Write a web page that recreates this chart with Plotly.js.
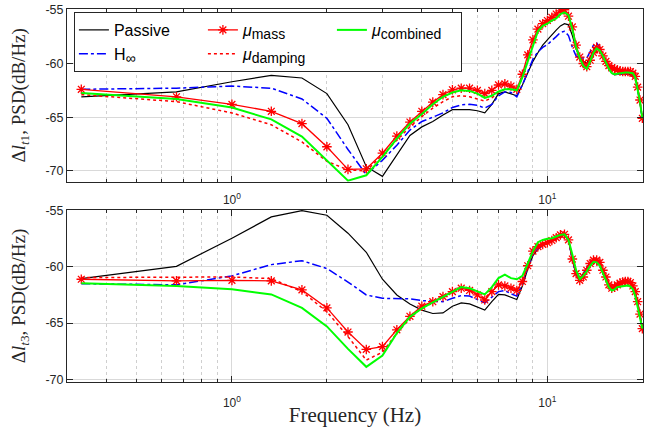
<!DOCTYPE html>
<html><head><meta charset="utf-8">
<script src="https://cdn.plot.ly/plotly-3.0.1.min.js"></script>
<style>html,body{margin:0;padding:0;background:#fff}#plot{width:660px;height:427px}</style>
</head><body><div id="plot"></div>
<script>
const freq = [0.333,0.667,1.000,1.333,1.667,2.000,2.333,2.667,3.000,3.333,3.667,4.000,4.333,4.667,5.000,5.333,5.667,6.000,6.333,6.667,7.000,7.333,7.667,8.000,8.333,8.667,9.000,9.333,9.667,10.000,10.333,10.667,11.000,11.333,11.667,12.000,12.333,12.667,13.000,13.333,13.667,14.000,14.333,14.667,15.000,15.333,15.667,16.000,16.333,16.667,17.000,17.333,17.667,18.000,18.333,18.667,19.000,19.333,19.667,20.000];

// Upper panel: Δl_t1
const passiveT1 = [-63.1,-62.65,-61.7,-61.1,-61.35,-62.8,-65.7,-69.6,-70.5,-68.5,
-66.7,-65.9,-65.4,-64.8,-64.3,-64.3,-64.3,-64.4,-64.6,-63.8,
-62.8,-62.65,-62.8,-63.0,-62.0,-60.9,-59.8,-59.0,-58.3,-57.8,
-57.3,-56.9,-56.5,-56.3,-56.4,-57.4,-58.6,-59.5,-59.8,-60.0,
-59.4,-58.8,-58.4,-58.7,-59.3,-59.9,-60.4,-60.9,-61.05,-61.0,
-60.95,-60.95,-61.0,-61.0,-61.05,-61.1,-61.3,-62.4,-63.6,-65.1];
const hinfT1 = [-62.4,-62.3,-62.1,-62.3,-63.3,-65.1,-68.0,-70.35,-69.0,-67.6,
-66.2,-65.4,-65.0,-64.6,-64.1,-63.85,-63.8,-63.9,-64.15,-63.8,
-63.0,-62.65,-62.7,-63.1,-62.0,-60.8,-59.6,-58.9,-58.5,-58.25,
-57.9,-57.5,-57.1,-57.0,-57.4,-58.5,-59.3,-59.5,-59.5,-59.5,
-58.9,-58.3,-58.1,-58.5,-59.3,-60.0,-60.5,-60.9,-61.0,-61.0,
-61.0,-60.95,-60.95,-60.95,-61.0,-61.05,-61.3,-62.4,-63.6,-65.1];
const massT1 = [-62.4,-63.1,-63.8,-64.45,-65.6,-67.75,-69.85,-69.8,-68.35,-66.75,
-65.45,-64.45,-63.6,-62.9,-62.45,-62.3,-62.3,-62.5,-62.8,-62.5,
-62.0,-61.9,-62.1,-62.4,-61.0,-59.2,-57.8,-56.8,-56.3,-56.0,
-55.7,-55.4,-55.1,-55.0,-55.6,-56.6,-58.3,-59.4,-60.0,-60.3,
-59.7,-59.0,-58.5,-58.7,-59.3,-59.8,-60.2,-60.4,-60.5,-60.6,
-60.7,-60.75,-60.75,-60.75,-60.75,-60.9,-61.2,-62.2,-63.4,-65.1];
const dampingT1 = [-62.9,-63.55,-64.6,-65.7,-67.3,-69.1,-69.9,-70.0,-68.5,-67.1,
-65.9,-64.95,-64.15,-63.55,-63.1,-63.0,-63.1,-63.3,-63.5,-63.2,
-62.7,-62.4,-62.4,-62.5,-61.3,-59.6,-58.1,-57.0,-56.4,-56.1,
-55.8,-55.5,-55.2,-55.1,-55.6,-56.7,-58.4,-59.5,-60.1,-60.4,
-59.8,-59.1,-58.6,-58.8,-59.4,-59.9,-60.3,-60.5,-60.6,-60.7,
-60.75,-60.8,-60.8,-60.8,-60.8,-60.9,-61.2,-62.3,-63.5,-65.1];
const combinedT1 = [-62.75,-63.3,-64.1,-65.2,-66.8,-69.0,-70.9,-70.4,-68.7,-67.0,
-65.6,-64.7,-63.8,-63.1,-62.7,-62.5,-62.55,-62.8,-63.2,-63.0,
-62.6,-62.4,-62.4,-62.5,-61.3,-59.8,-58.3,-57.0,-56.5,-56.3,
-56.0,-55.8,-55.4,-55.25,-55.5,-56.8,-58.5,-59.5,-60.2,-60.5,
-59.8,-59.0,-58.6,-58.8,-59.3,-60.0,-60.5,-60.9,-61.0,-60.95,
-60.9,-60.85,-60.85,-60.85,-60.85,-60.9,-61.3,-62.4,-63.6,-65.1];

// Lower panel: Δl_t3
const passiveT3 = [-61.05,-59.95,-57.45,-55.55,-55.0,-55.4,-57.0,-58.7,-61.1,-62.5,
-63.3,-63.85,-64.15,-64.1,-63.5,-63.2,-63.3,-63.6,-63.85,-63.1,
-62.45,-62.5,-62.7,-62.9,-61.7,-60.2,-59.0,-58.4,-58.1,-57.9,
-57.7,-57.5,-57.25,-57.15,-57.6,-59.4,-60.7,-61.1,-60.6,-60.1,
-59.6,-59.4,-59.4,-59.7,-60.4,-61.0,-61.6,-61.9,-61.8,-61.6,
-61.45,-61.4,-61.35,-61.35,-61.45,-61.75,-62.3,-63.2,-64.3,-65.5];
const hinfT3 = [-61.5,-61.6,-60.8,-59.8,-59.45,-60.15,-61.35,-62.5,-62.8,-62.8,
-62.85,-63.0,-63.05,-63.1,-62.8,-62.55,-62.6,-62.9,-63.2,-62.7,
-62.2,-62.1,-62.4,-62.6,-61.5,-60.0,-58.9,-58.4,-58.1,-57.9,
-57.7,-57.5,-57.25,-57.15,-57.6,-59.4,-60.7,-61.1,-60.6,-60.1,
-59.6,-59.4,-59.4,-59.7,-60.4,-61.0,-61.6,-61.9,-61.8,-61.6,
-61.45,-61.4,-61.35,-61.35,-61.45,-61.75,-62.3,-63.2,-64.3,-65.5];
const massT3 = [-61.1,-61.25,-61.2,-61.25,-62.05,-63.65,-65.8,-67.35,-67.1,-65.6,
-64.4,-63.5,-63.1,-62.65,-62.2,-61.9,-62.1,-62.5,-62.95,-62.2,
-61.6,-61.7,-61.9,-62.1,-61.3,-59.9,-58.6,-58.2,-58.0,-57.85,
-57.65,-57.4,-57.15,-57.1,-57.6,-59.3,-60.6,-61.2,-60.9,-60.3,
-59.7,-59.4,-59.4,-59.6,-60.3,-60.9,-61.6,-61.9,-61.8,-61.6,
-61.45,-61.35,-61.3,-61.3,-61.4,-61.7,-62.2,-63.1,-64.2,-65.5];
const dampingT3 = [-60.95,-60.95,-60.9,-61.05,-62.2,-64.0,-66.2,-68.3,-67.6,-65.9,
-64.6,-63.6,-63.1,-62.6,-62.15,-61.85,-62.0,-62.4,-62.8,-62.1,
-61.5,-61.6,-61.8,-62.0,-61.2,-59.9,-58.7,-58.2,-58.0,-57.8,
-57.6,-57.35,-57.1,-57.0,-57.5,-59.2,-60.5,-61.1,-60.8,-60.2,
-59.6,-59.3,-59.3,-59.6,-60.3,-60.9,-61.5,-61.8,-61.7,-61.5,
-61.4,-61.3,-61.25,-61.25,-61.35,-61.65,-62.2,-63.1,-64.2,-65.5];
const combinedT3 = [-61.45,-61.7,-62.0,-62.45,-63.65,-65.3,-67.3,-68.9,-67.9,-65.9,
-64.45,-63.7,-63.15,-62.65,-62.2,-61.8,-61.9,-62.2,-62.45,-61.8,
-61.0,-60.7,-61.0,-61.1,-60.8,-59.7,-58.6,-57.8,-57.6,-57.5,
-57.45,-57.3,-57.15,-57.1,-57.6,-58.9,-60.3,-61.1,-60.8,-60.4,
-59.9,-59.55,-59.6,-59.9,-60.6,-61.2,-61.8,-62.1,-62.0,-61.8,
-61.75,-61.7,-61.65,-61.65,-61.75,-62.0,-62.6,-63.6,-64.5,-65.5];

const sub = s => '<sub><span style="font-size:14px">' + s + '</span></sub>';
const names = ['Passive', 'H' + sub('∞'), '<i>μ</i>' + sub('mass'), '<i>μ</i>' + sub('damping'), '<i>μ</i>' + sub('combined')];
const groups = ['g1', 'g1', 'g2', 'g2', 'g3'];
const ranks = [1, 2, 3, 4, 5];
const styles = [
  {mode: 'lines', line: {color: '#000000', width: 1.2}},
  {mode: 'lines', line: {color: '#0000ff', width: 1.5, dash: 'dashdot'}},
  {mode: 'lines+markers', line: {color: '#ff0000', width: 1.3}, marker: {symbol: 'asterisk-open', size: 8, color: '#ff0000', line: {color: '#ff0000', width: 1.3}}},
  {mode: 'lines', line: {color: '#ff0000', width: 1.5, dash: 'dot'}},
  {mode: 'lines', line: {color: '#00ff00', width: 2}}
];

function panel(series, xa, ya, show) {
  return series.map((ys, i) => Object.assign({
    type: 'scatter', x: freq, y: ys, xaxis: xa, yaxis: ya,
    name: names[i], legendgroup: groups[i], legendrank: ranks[i],
    showlegend: show, hoverinfo: 'skip'
  }, styles[i]));
}

const data = [].concat(
  panel([passiveT1, hinfT1, massT1, dampingT1, combinedT1], 'x', 'y', true),
  panel([passiveT3, hinfT3, massT3, dampingT3, combinedT3], 'x2', 'y2', false)
);

const axColor = '#262626';
const minorVals = [0.4,0.5,0.6,0.7,0.8,0.9,2,3,4,5,6,7,8,9,20];
function xAxis(anchor, title, standoff) {
  const a = {
    type: 'log', range: [Math.log10(0.3), Math.log10(20.1)], domain: [0, 1], anchor: anchor,
    tickmode: 'array', tickvals: [1, 10], ticktext: ['10<sup>0</sup>', '10<sup>1</sup>'],
    ticks: 'inside', ticklen: 6, tickcolor: axColor, mirror: 'allticks', ticklabelstandoff: standoff,
    showline: true, linecolor: axColor, linewidth: 1,
    showgrid: true, gridcolor: '#d9d9d9', gridwidth: 1, zeroline: false,
    minor: {tickmode: 'array', tickvals: minorVals, ticks: 'inside', ticklen: 3, tickcolor: axColor,
            showgrid: true, gridcolor: '#cfcfcf', griddash: 'dot', gridwidth: 1},
    tickfont: {family: 'Liberation Sans, Arial, sans-serif', size: 12, color: axColor}
  };
  if (title) a.title = {text: title, font: {family: 'Liberation Serif, serif', size: 21, color: axColor}, standoff: 10};
  return a;
}
function yAxis(domain, range, anchor, title) {
  return {
    domain: domain, range: range, anchor: anchor,
    tickmode: 'array', tickvals: [-70, -65, -60, -55], ticktext: ['-70', '-65', '-60', '-55'],
    ticks: 'inside', ticklen: 6, tickcolor: axColor, mirror: 'ticks',
    showline: true, linecolor: axColor, linewidth: 1,
    showgrid: true, gridcolor: '#d9d9d9', zeroline: false,
    tickfont: {family: 'Liberation Sans, Arial, sans-serif', size: 12.5, color: axColor},
    title: {text: title, font: {family: 'Liberation Serif, serif', size: 19, color: axColor}, standoff: 14}
  };
}

const layout = {
  width: 660, height: 427,
  margin: {l: 67, r: 17, t: 9, b: 45},
  paper_bgcolor: '#ffffff', plot_bgcolor: '#ffffff',
  showlegend: true,
  xaxis: xAxis('y', null, 7),
  xaxis2: xAxis('y2', 'Frequency (Hz)', 10),
  yaxis: yAxis([0.537, 1], [-71, -54.93], 'x', 'Δ<i>l</i><sub><i>t</i>1</sub>, PSD(dB/Hz)'),
  yaxis2: yAxis([0, 0.461], [-70.25, -54.94], 'x2', 'Δ<i>l</i><sub><i>t</i>3</sub>, PSD(dB/Hz)'),
  legend: {
    orientation: 'h', x: 0.012, y: 0.992, xanchor: 'left', yanchor: 'top',
    bgcolor: '#ffffff', bordercolor: '#262626', borderwidth: 1,
    font: {family: 'Liberation Sans, Arial, sans-serif', size: 16, color: '#000000'},
    traceorder: 'grouped', tracegroupgap: 4, entrywidth: 84, entrywidthmode: 'pixels'
  }
};

Plotly.newPlot('plot', data, layout, {staticPlot: true, displayModeBar: false});
</script></body></html>
